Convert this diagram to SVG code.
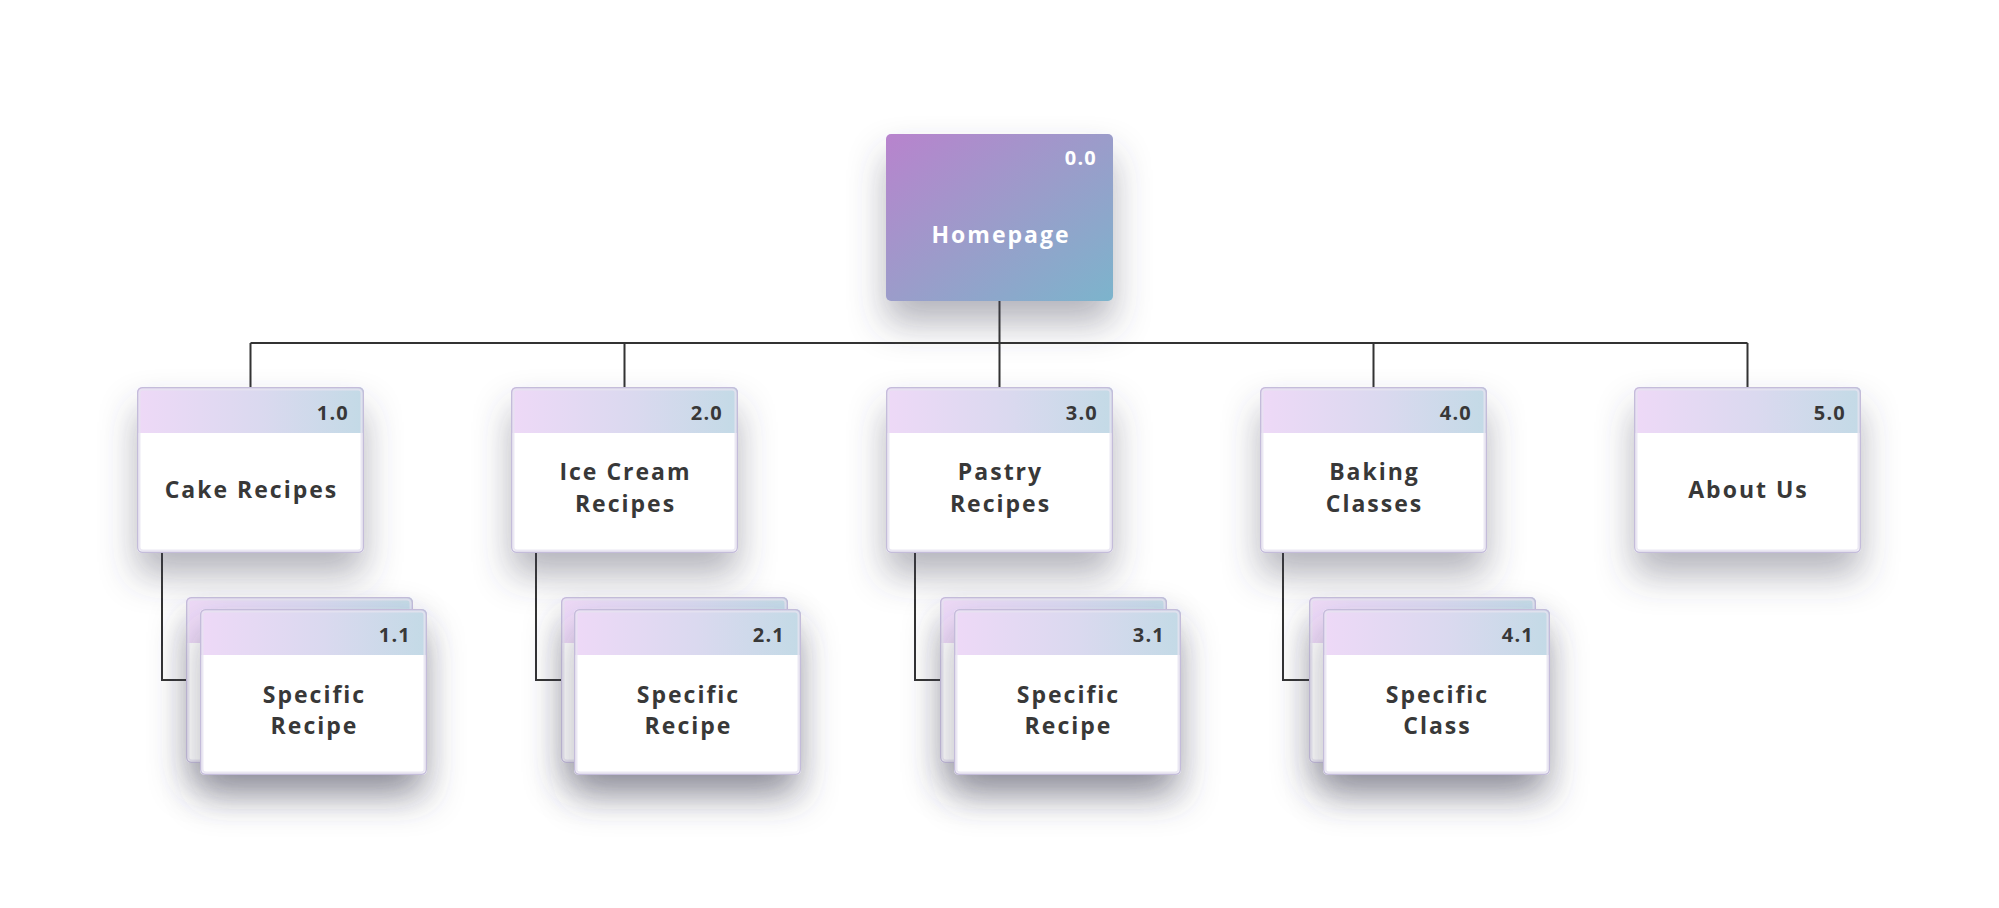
<svg xmlns="http://www.w3.org/2000/svg" width="1999" height="908" viewBox="0 0 1999 908">
<defs>
<linearGradient id="gHome" x1="0" y1="0" x2="1" y2="1">
<stop offset="0" stop-color="#b883cd"/>
<stop offset="0.5" stop-color="#9b9cca"/>
<stop offset="1" stop-color="#7cb4cc"/>
</linearGradient>
<linearGradient id="gHead" x1="0" y1="0" x2="1" y2="0">
<stop offset="0" stop-color="#eed9f7"/>
<stop offset="0.55" stop-color="#dad9ef"/>
<stop offset="1" stop-color="#c3dae6"/>
</linearGradient>
<filter id="sh" x="-30%" y="-30%" width="160%" height="190%">
<feDropShadow dx="0" dy="22" stdDeviation="18" flood-color="#45455a" flood-opacity="0.4"/>
</filter>
<clipPath id="cCard"><rect x="0" y="0" width="227" height="166" rx="5"/></clipPath>
<g id="card">
<rect x="0" y="0" width="227" height="166" rx="5" fill="#ffffff"/>
<rect x="0" y="0" width="227" height="46" fill="url(#gHead)" clip-path="url(#cCard)"/>
<rect x="0.75" y="0.75" width="225.5" height="164.5" rx="4.5" fill="none" stroke="#c4bcda" stroke-width="1.5"/>
<rect x="2.5" y="2.5" width="222" height="161" rx="3.5" fill="none" stroke="#e6e2f0" stroke-width="2" opacity="0.8"/>
</g>
</defs>
<style>
.t{font-family:"Open Sans","Noto Sans","DejaVu Sans",sans-serif;font-weight:700;font-size:23px;letter-spacing:2px;fill:#383838;text-anchor:middle}
.n{font-family:"Open Sans","Noto Sans","DejaVu Sans",sans-serif;font-weight:700;font-size:20px;letter-spacing:1.2px;fill:#383838;text-anchor:end}
.w{fill:#ffffff}
.c{fill:none;stroke:#333333;stroke-width:2}
</style>
<rect width="1999" height="908" fill="#ffffff"/>

<g id="connectors">
<path class="c" d="M999.5 301 V343 M250.5 343 H1747.5 M250.5 343 V387 M624.5 343 V387 M999.5 343 V387 M1373.5 343 V387 M1747.5 343 V387"/>
<path class="c" d="M162 553 V680 H186 M536 553 V680 H561 M915 553 V680 H940 M1283 553 V680 H1309"/>
</g>

<g id="n0">
<rect x="886" y="134" width="227" height="167" rx="5" fill="url(#gHome)" filter="url(#sh)"/>
<text class="n w" x="1097" y="165">0.0</text>
<text class="t w" x="1001" y="243">Homepage</text>
</g>

<g id="n1">
<use href="#card" x="137" y="387" filter="url(#sh)"/>
<text class="n" x="349" y="420">1.0</text>
<text class="t" x="251.5" y="498">Cake Recipes</text>
</g>
<g id="n2">
<use href="#card" x="511" y="387" filter="url(#sh)"/>
<text class="n" x="723" y="420">2.0</text>
<text class="t" x="625.5" y="480">Ice Cream</text>
<text class="t" x="625.5" y="512">Recipes</text>
</g>
<g id="n3">
<use href="#card" x="886" y="387" filter="url(#sh)"/>
<text class="n" x="1098" y="420">3.0</text>
<text class="t" x="1000.5" y="480">Pastry</text>
<text class="t" x="1000.5" y="512">Recipes</text>
</g>
<g id="n4">
<use href="#card" x="1260" y="387" filter="url(#sh)"/>
<text class="n" x="1472" y="420">4.0</text>
<text class="t" x="1374.5" y="480">Baking</text>
<text class="t" x="1374.5" y="512">Classes</text>
</g>
<g id="n5">
<use href="#card" x="1634" y="387" filter="url(#sh)"/>
<text class="n" x="1846" y="420">5.0</text>
<text class="t" x="1748.5" y="498">About Us</text>
</g>

<g id="n1_1">
<use href="#card" x="186" y="597" filter="url(#sh)"/>
<use href="#card" x="200" y="609" filter="url(#sh)"/>
<text class="n" x="411" y="642">1.1</text>
<text class="t" x="314.5" y="703">Specific</text>
<text class="t" x="314.5" y="734">Recipe</text>
</g>
<g id="n2_1">
<use href="#card" x="561" y="597" filter="url(#sh)"/>
<use href="#card" x="574" y="609" filter="url(#sh)"/>
<text class="n" x="785" y="642">2.1</text>
<text class="t" x="688.5" y="703">Specific</text>
<text class="t" x="688.5" y="734">Recipe</text>
</g>
<g id="n3_1">
<use href="#card" x="940" y="597" filter="url(#sh)"/>
<use href="#card" x="954" y="609" filter="url(#sh)"/>
<text class="n" x="1165" y="642">3.1</text>
<text class="t" x="1068.5" y="703">Specific</text>
<text class="t" x="1068.5" y="734">Recipe</text>
</g>
<g id="n4_1">
<use href="#card" x="1309" y="597" filter="url(#sh)"/>
<use href="#card" x="1323" y="609" filter="url(#sh)"/>
<text class="n" x="1534" y="642">4.1</text>
<text class="t" x="1437.5" y="703">Specific</text>
<text class="t" x="1437.5" y="734">Class</text>
</g>
</svg>
